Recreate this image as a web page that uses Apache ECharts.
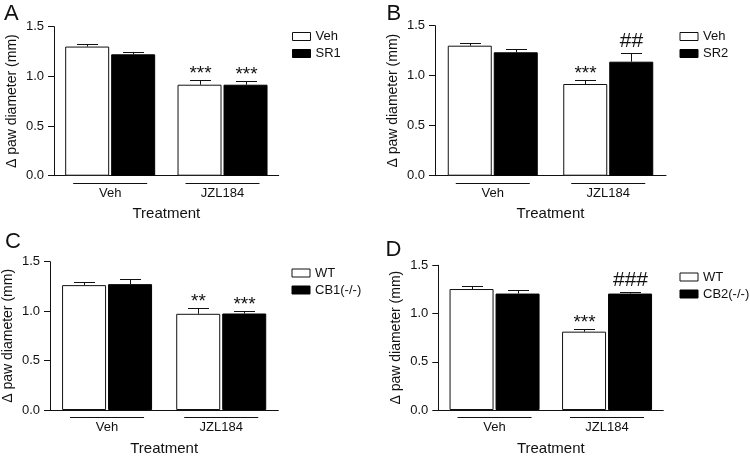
<!DOCTYPE html>
<html><head><meta charset="utf-8">
<script src="https://cdn.jsdelivr.net/npm/echarts@6.0.0/dist/echarts.min.js"></script>
<style>html,body{margin:0;padding:0;background:#fff}#c{width:750px;height:457px}</style>
</head><body><div id="c"></div>
<script>
// ---- data ----
const categories = ['Veh', 'JZL184'];
const panelLetters = ['A', 'B', 'C', 'D'];
const whiteNames = ['Veh', 'Veh', 'WT', 'WT'];
const blackNames = ['SR1', 'SR2', 'CB1(-/-)', 'CB2(-/-)'];
const yTicks = [0.0, 0.5, 1.0, 1.5];

const whiteA = [1.30, 0.916];  const whiteErrA = [0.030, 0.044];
const blackA = [1.222, 0.916]; const blackErrA = [0.026, 0.037];
const sigWhiteA = ['', '***']; const sigBlackA = ['', '***'];

const whiteB = [1.30, 0.917];  const whiteErrB = [0.027, 0.040];
const blackB = [1.234, 1.14];  const blackErrB = [0.030, 0.084];
const sigWhiteB = ['', '***']; const sigBlackB = ['', '##'];

const whiteC = [1.263, 0.973]; const whiteErrC = [0.033, 0.060];
const blackC = [1.273, 0.976]; const blackErrC = [0.053, 0.030];
const sigWhiteC = ['', '**'];  const sigBlackC = ['', '***'];

const whiteD = [1.254, 0.812]; const whiteErrD = [0.030, 0.027];
const blackD = [1.207, 1.207]; const blackErrD = [0.040, 0.020];
const sigWhiteD = ['', '***']; const sigBlackD = ['', '###'];

const panels = [
  {white: whiteA, whiteErr: whiteErrA, black: blackA, blackErr: blackErrA, sigW: sigWhiteA, sigB: sigBlackA},
  {white: whiteB, whiteErr: whiteErrB, black: blackB, blackErr: blackErrB, sigW: sigWhiteB, sigB: sigBlackB},
  {white: whiteC, whiteErr: whiteErrC, black: blackC, blackErr: blackErrC, sigW: sigWhiteC, sigB: sigBlackC},
  {white: whiteD, whiteErr: whiteErrD, black: blackD, blackErr: blackErrD, sigW: sigWhiteD, sigB: sigBlackD}
];

// ---- layout ----
const FONT = 'Liberation Sans, Arial, sans-serif';
const INK = '#111';
const BW = 44, GAP = 2, CAP = 21, ULW = 74;
const grids = [
  {left: 54, top: 26.7, width: 224.7, height: 149},
  {left: 435, top: 25.7, width: 231, height: 150},
  {left: 49.3, top: 261.7, width: 229, height: 148.6},
  {left: 438.3, top: 265.3, width: 225, height: 148.4}
];
const legendPos = [
  {left: 292, top: 29.5},
  {left: 679.5, top: 29.5},
  {left: 291.5, top: 266},
  {left: 679.5, top: 270}
];
const letterPos = [
  {left: 4, top: 3}, {left: 386.5, top: 3}, {left: 5, top: 231}, {left: 385.5, top: 239}
];

function errRender(side, sigs) {
  return function (params, api) {
    const i = api.value(0), v = api.value(1), e = api.value(2);
    const base = api.coord([i, v]);
    const top = api.coord([i, v + e]);
    const x = Math.round(base[0] + side * (BW + GAP) / 2) + 0.5;
    const yt = Math.round(top[1]) + 0.5;
    const children = [
      {type: 'line', shape: {x1: x, y1: base[1], x2: x, y2: yt}, style: {stroke: INK, lineWidth: 1}},
      {type: 'line', shape: {x1: x - CAP / 2, y1: yt, x2: x + CAP / 2, y2: yt}, style: {stroke: INK, lineWidth: 1}}
    ];
    const sig = sigs[params.dataIndex];
    if (sig) {
      const isHash = sig.indexOf('#') >= 0;
      children.push({type: 'text', style: {text: sig, x: x, y: isHash ? yt - 2 : yt + 3, align: 'center', verticalAlign: 'bottom',
        fontSize: isHash ? 21 : 19, fontFamily: FONT, fill: INK}});
    }
    return {type: 'group', children: children};
  };
}
function ulRender(params, api) {
  const p = api.coord([api.value(0), 0]);
  const y = Math.round(p[1] + 7) + 0.5;
  return {type: 'line', shape: {x1: p[0] - ULW / 2, y1: y, x2: p[0] + ULW / 2, y2: y}, style: {stroke: INK, lineWidth: 1}};
}

const option = {
  animation: false,
  backgroundColor: '#fff',
  title: panelLetters.map((t, k) => ({text: t, left: letterPos[k].left, top: letterPos[k].top, padding: 0,
    textStyle: {fontSize: 22, fontWeight: 'normal', color: INK, fontFamily: FONT}})),
  legend: panels.map((p, k) => ({
    data: [whiteNames[k], blackNames[k]], orient: 'vertical', left: legendPos[k].left, top: legendPos[k].top,
    padding: 0, itemWidth: 18, itemHeight: 8, itemGap: 3, icon: 'rect', selectedMode: false,
    itemStyle: {borderWidth: 1},
    textStyle: {fontSize: 13, lineHeight: 14, color: INK, fontFamily: FONT}
  })),
  grid: grids.map(g => Object.assign({containLabel: false}, g)),
  xAxis: grids.map((g, k) => ({
    type: 'category', gridIndex: k, data: categories,
    name: 'Treatment', nameLocation: 'middle', nameGap: 31,
    nameTextStyle: {fontSize: 15, color: INK, fontFamily: FONT},
    axisLine: {show: true, lineStyle: {color: INK, width: 1}},
    axisTick: {show: false},
    axisLabel: {fontSize: 13, color: INK, fontFamily: FONT, margin: 11},
    splitLine: {show: false}
  })),
  yAxis: grids.map((g, k) => ({
    type: 'value', gridIndex: k, min: yTicks[0], max: yTicks[yTicks.length - 1], interval: 0.5,
    name: 'Δ paw diameter (mm)', nameLocation: 'middle', nameRotate: 90, nameGap: 35,
    nameTextStyle: {fontSize: 14, color: INK, fontFamily: FONT},
    axisLine: {show: true, lineStyle: {color: INK, width: 1}},
    axisTick: {show: true, length: 6, lineStyle: {color: INK}},
    axisLabel: {fontSize: 13, color: INK, fontFamily: FONT, margin: 10, formatter: v => v.toFixed(1)},
    splitLine: {show: false}
  })),
  series: []
};

panels.forEach((p, k) => {
  option.series.push({
    type: 'bar', name: whiteNames[k], xAxisIndex: k, yAxisIndex: k, data: p.white,
    barWidth: BW, barGap: (GAP / BW * 100) + '%',
    itemStyle: {color: '#fff', borderColor: INK, borderWidth: 1}
  });
  option.series.push({
    type: 'bar', name: blackNames[k], xAxisIndex: k, yAxisIndex: k, data: p.black,
    barWidth: BW, barGap: (GAP / BW * 100) + '%',
    itemStyle: {color: '#000', borderColor: '#000', borderWidth: 1}
  });
  option.series.push({
    type: 'custom', xAxisIndex: k, yAxisIndex: k, silent: true, z: 5,
    data: categories.map((c, i) => [i, p.white[i], p.whiteErr[i]]),
    encode: {x: 0, y: 1}, renderItem: errRender(-1, p.sigW)
  });
  option.series.push({
    type: 'custom', xAxisIndex: k, yAxisIndex: k, silent: true, z: 5,
    data: categories.map((c, i) => [i, p.black[i], p.blackErr[i]]),
    encode: {x: 0, y: 1}, renderItem: errRender(1, p.sigB)
  });
  option.series.push({
    type: 'custom', xAxisIndex: k, yAxisIndex: k, silent: true, clip: false,
    data: categories.map((c, i) => [i, 0]),
    encode: {x: 0, y: 1}, renderItem: ulRender
  });
});

const chart = echarts.init(document.getElementById('c'), null, {renderer: 'canvas'});
chart.setOption(option);
</script>
</body></html>
